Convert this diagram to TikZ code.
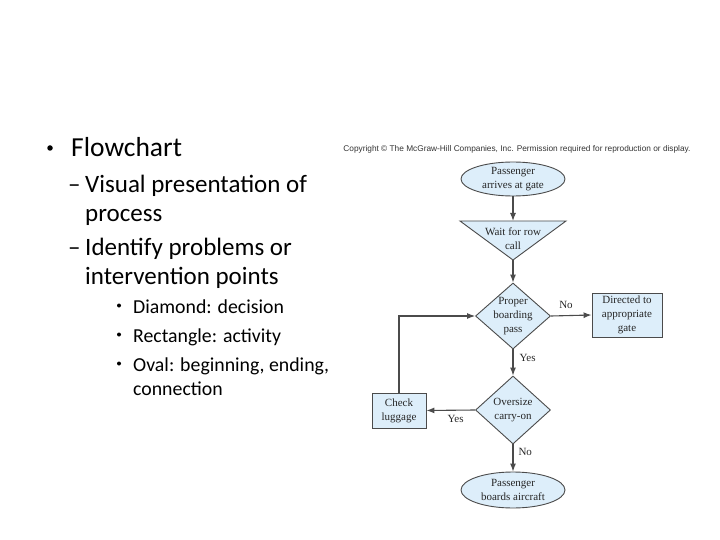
\documentclass[tikz,border=0pt]{standalone}
\usepackage{fontspec}
\setmainfont{Carlito}
\newfontfamily\fcserif{Liberation Serif}
\newfontfamily\fcsans{Liberation Sans}
\usetikzlibrary{arrows.meta,shapes.geometric}
\definecolor{boxfill}{RGB}{221,238,250}
\definecolor{boxline}{RGB}{75,75,75}
\begin{document}
\begin{tikzpicture}[x=1pt,y=-1pt,
  lone/.style={anchor=base west,inner sep=0pt,font=\fontsize{27.5}{30}\selectfont},
  ltwo/.style={anchor=base west,inner sep=0pt,font=\fontsize{25}{28}\selectfont},
  lthree/.style={anchor=base west,inner sep=0pt,font=\fontsize{19.8}{22}\selectfont},
  bul/.style={anchor=center,inner sep=0pt,circle,fill=black},
  fctext/.style={align=center,inner sep=0pt,font=\fcserif\fontsize{11}{14}\selectfont,text=black!85},
  shp/.style={draw=boxline,fill=boxfill,line width=0.9pt},
  oval/.style={shp,ellipse,minimum width=104pt,minimum height=34pt,inner sep=0pt},
  dia/.style={shp,diamond,minimum width=75pt,minimum height=66pt,inner sep=0pt},
  rbox/.style={shp,rectangle,inner sep=0pt},
  conn/.style={draw=boxline,line width=1.1pt,-{Latex[length=8pt,width=6pt]}},
  lbl/.style={inner sep=0pt,font=\fcserif\fontsize{11}{12}\selectfont,text=black!85}
]
\useasboundingbox (0,0) rectangle (720,540);
% slide text
\node[bul,minimum size=5.5pt] (b1) at (50,148) {};
\node[lone] (t1) at (71,156.5) {Flowchart};
\node[ltwo] (d1) at (68,192.5) {–};
\node[ltwo] (t2) at (85,192.5) {Visual presentation of};
\node[ltwo] (t3) at (85,221.5) {process};
\node[ltwo] (d2) at (68,255.5) {–};
\node[ltwo] (t4) at (85,255.5) {Identify problems or};
\node[ltwo] (t5) at (85,284.5) {intervention points};
\node[bul,minimum size=4pt] (b3a) at (119,305.5) {};
\node[lthree] (t6) at (133,313) {Diamond: decision};
\node[bul,minimum size=4pt] (b3b) at (119,334.5) {};
\node[lthree] (t7) at (133,342) {Rectangle: activity};
\node[bul,minimum size=4pt] (b3c) at (119,363.5) {};
\node[lthree] (t8) at (133,371) {Oval: beginning, ending,};
\node[lthree] (t9) at (133,395) {connection};
% copyright
\node[inner sep=0pt,font=\fcsans\fontsize{8.3}{10}\selectfont,text=black!80] (copy) at (517,149) {Copyright © The McGraw-Hill Companies, Inc. Permission required for reproduction or display.};
% flowchart shapes
\node[oval] (start) at (513,179) {};
\node[fctext] at (start) {Passenger\\arrives at gate};
\draw[shp] (460,221) coordinate (tl) -- (566,221) coordinate (tr) -- (513,260) coordinate (tapex) -- cycle;
\coordinate (ttop) at (513,221);
\node[fctext] (wait) at (513,238.5) {Wait for row\\call};
\node[dia] (d1s) at (513,316) {};
\node[fctext] at (d1s) {Proper\\boarding\\pass};
\node[rbox,minimum width=70pt,minimum height=44pt] (dir) at (627,315) {};
\node[fctext] at (dir) {Directed to\\appropriate\\gate};
\node[dia,minimum height=68pt] (d2s) at (513,410) {};
\node[fctext] at (d2s) {Oversize\\carry-on};
\node[rbox,minimum width=54pt,minimum height=35pt] (chk) at (399,410.5) {};
\node[fctext] at (chk) {Check\\luggage};
\node[oval,minimum height=36pt] (end) at (513,490) {};
\node[fctext] at (end) {Passenger\\boards aircraft};
% connectors
\draw[conn] (start.south) -- (ttop);
\draw[conn] (tapex) -- (d1s.north);
\draw[conn] (d1s.east) -- node[lbl,pos=0.37,above=6pt] {No} (dir.west);
\draw[conn] (d1s.south) -- node[lbl,pos=0.32,right=6pt] {Yes} (d2s.north);
\draw[conn] (d2s.west) -- node[lbl,pos=0.4,below=5pt] {Yes} (chk.east);
\draw[conn] (d2s.south) -- node[lbl,pos=0.29,right=5pt] {No} (end.north);
\draw[conn] (chk.north) |- (d1s.west);
\end{tikzpicture}
\end{document}
